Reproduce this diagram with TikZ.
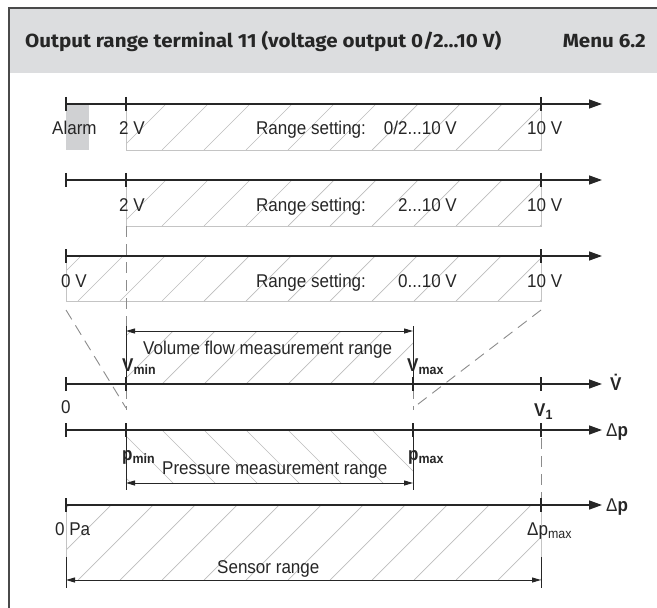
\documentclass[tikz,border=0pt]{standalone}
\usepackage{fontspec}
\usepackage{graphicx}
\setmainfont{Liberation Sans}
\newfontfamily\labfont[FakeStretch=0.92]{Liberation Sans}
\newfontfamily\headfont{Fira Sans}
\usetikzlibrary{arrows.meta}
\definecolor{hdr}{HTML}{DCDDDF}
\definecolor{ink}{HTML}{262626}
\definecolor{frameink}{HTML}{4A4A4A}
\definecolor{edgegray}{HTML}{C4C4C4}
\definecolor{hatchgray}{HTML}{BDBDBD}
\definecolor{dashgray}{HTML}{8C8C8C}
\definecolor{alarmgray}{HTML}{D0D1D3}
\newcommand{\sbx}[1]{\raisebox{-3bp}{\fontsize{13.5bp}{14bp}\selectfont #1}}
\newcommand{\hatchfwd}[4]{%
  \begin{scope}
    \clip (#1,#2) rectangle (#3,#4);
    \pgfmathsetmacro\hh{#4-#2}
    \foreach \k in {-300,-258,...,700} \draw[hatchline] (\k,#4) -- ++(\hh,-\hh);
  \end{scope}}
\newcommand{\hatchbwd}[4]{%
  \begin{scope}
    \clip (#1,#2) rectangle (#3,#4);
    \pgfmathsetmacro\hh{#4-#2}
    \foreach \k in {-300,-258,...,700} \draw[hatchline] (\k,#2) -- ++(\hh,\hh);
  \end{scope}}
\tikzset{
  axisline/.style={line width=1.4bp, draw=ink, -{Triangle[length=13bp,width=9bp]}},
  tickmark/.style={line width=1.2bp, draw=ink},
  boxedge/.style={draw=edgegray, line width=0.9bp},
  hatchline/.style={draw=hatchgray, line width=0.7bp},
  dimline/.style={line width=1bp, draw=ink, {Triangle[length=9bp,width=5bp]}-{Triangle[length=9bp,width=5bp]}},
  extline/.style={line width=1bp, draw=ink},
  dashln/.style={draw=dashgray, line width=0.9bp, dash pattern=on 11bp off 7bp},
  lbl/.style={font=\labfont\fontsize{18.5bp}{20bp}\selectfont, inner sep=0pt, text=ink},
  blbl/.style={font=\labfont\bfseries\fontsize{18.5bp}{20bp}\selectfont, inner sep=0pt, text=ink},
  headtxt/.style={font=\headfont\bfseries\fontsize{19bp}{22bp}\selectfont, inner sep=0pt, text=ink}
}
\begin{document}
\begin{tikzpicture}[x=1bp, y=-1bp]
\useasboundingbox (0,0) rectangle (657,608);
\fill[white] (0,0) rectangle (657,608);
% header
\fill[hdr] (9,8) rectangle (657,73);
\draw[frameink, line width=1.4bp] (9,608) -- (9,8) -- (657,8);
\node[headtxt, anchor=base west] (title) at (25,48) {\resizebox{476bp}{\height}{Output range terminal 11 (voltage output 0/2...10 V)}};
\node[headtxt, anchor=base east] (menu) at (646,48) {\resizebox{83bp}{\height}{Menu 6.2}};

% ---------- hatched areas ----------
\fill[alarmgray] (66,105) rectangle (89,150);
\hatchfwd{126}{104}{541}{150}
\draw[boxedge] (126,104) -- (126,150) -- (541,150) -- (541,104);
\hatchfwd{126}{180}{541}{226}
\draw[boxedge] (126,180) -- (126,226) -- (541,226) -- (541,180);
\hatchfwd{66}{256}{541}{301}
\draw[boxedge] (66,256) -- (66,301) -- (541,301) -- (541,256);
\hatchfwd{126}{331}{413}{384}
\hatchbwd{126}{430}{413}{483}
\hatchfwd{66}{505}{541}{580}
\draw[boxedge] (66,505) -- (66,557);
\draw[boxedge] (541,505) -- (541,557);

% ---------- dashed guide lines ----------
\coordinate (d1a) at (126,226); \coordinate (d1b) at (126,410);
\draw[dashln] (d1a) -- (d1b);
\coordinate (d2a) at (413,388); \coordinate (d2b) at (413,410);
\draw[dashln] (d2a) -- (d2b);
\coordinate (s1a) at (66,310); \coordinate (s1b) at (126,408);
\draw[dashln] (s1a) -- (s1b);
\coordinate (s2a) at (541,310); \coordinate (s2b) at (413,408);
\draw[dashln] (s2a) -- (s2b);
\coordinate (d3a) at (541,438); \coordinate (d3b) at (541,505);
\draw[dashln] (d3a) -- (d3b);

% ---------- axes ----------
\foreach \n/\y in {a/104, b/180, c/256, v/384, p/430, s/505} {
  \coordinate (\n0) at (66,\y);
  \coordinate (\n1) at (602,\y);
  \draw[axisline] (\n0) -- (\n1);
}
% ticks
\foreach \x/\y in {66/104,126/104,541/104, 66/180,126/180,541/180, 66/256,541/256,
                   66/384,126/384,413/384,541/384, 66/430,126/430,413/430,541/430, 66/505,541/505} {
  \draw[tickmark] (\x,\y-7) -- (\x,\y+7);
}

% ---------- dimension lines ----------
\coordinate (vfL) at (126,331); \coordinate (vfR) at (413,331);
\draw[extline] (126,326) -- (126,384);
\draw[extline] (413,326) -- (413,384);
\draw[dimline] (vfL) -- (vfR);
\coordinate (pmL) at (126,483); \coordinate (pmR) at (413,483);
\draw[extline] (126,430) -- (126,490);
\draw[extline] (413,430) -- (413,490);
\draw[dimline] (pmL) -- (pmR);
\coordinate (srL) at (66,580); \coordinate (srR) at (541,580);
\draw[extline] (66,557) -- (66,588);
\draw[extline] (541,557) -- (541,588);
\draw[dimline] (srL) -- (srR);

% ---------- labels ----------
\node[lbl, anchor=base west] (alarm) at (52,135) {Alarm};
\node[lbl, anchor=base west] (r1a) at (119,135) {2 V};
\node[lbl, anchor=base west] (r1b) at (256,135) {Range setting:};
\node[lbl, anchor=base east] (r1c) at (457,135) {0/2...10 V};
\node[lbl, anchor=base west] (r1d) at (527,135) {10 V};

\node[lbl, anchor=base west] (r2a) at (119,211) {2 V};
\node[lbl, anchor=base west] (r2b) at (256,211) {Range setting:};
\node[lbl, anchor=base east] (r2c) at (457,211) {2...10 V};
\node[lbl, anchor=base west] (r2d) at (527,211) {10 V};

\node[lbl, anchor=base west] (r3a) at (61,287) {0 V};
\node[lbl, anchor=base west] (r3b) at (256,287) {Range setting:};
\node[lbl, anchor=base east] (r3c) at (457,287) {0...10 V};
\node[lbl, anchor=base west] (r3d) at (527,287) {10 V};

\node[lbl, anchor=base west] (vft) at (143,354) {Volume flow measurement range};
\node[blbl, anchor=base west] (vmin) at (122,371) {V\sbx{min}};
\node[blbl, anchor=base west] (vmax) at (407,371) {V\sbx{max}};
\node[blbl, anchor=base west] (vdot) at (610,390) {\.{V}};

\node[lbl, anchor=base west] (zero) at (61,413) {0};
\node[blbl, anchor=base west] (v1) at (534,416) {V\sbx{1}};
\node[lbl, anchor=base west] (dp1) at (606,436) {Δ\textbf{p}};

\node[blbl, anchor=base west] (pmin) at (122,460) {p\sbx{min}};
\node[blbl, anchor=base west] (pmax) at (408,460) {p\sbx{max}};
\node[lbl, anchor=base west] (pmt) at (162,474) {Pressure measurement range};

\node[lbl, anchor=base west] (dp2) at (606,511) {Δ\textbf{p}};
\node[lbl, anchor=base west] (zpa) at (55,535) {0 Pa};
\node[lbl, anchor=base west] (dpmax) at (527,535) {Δp\sbx{max}};
\node[lbl, anchor=base west] (srt) at (217,573) {Sensor range};
\end{tikzpicture}
\end{document}
